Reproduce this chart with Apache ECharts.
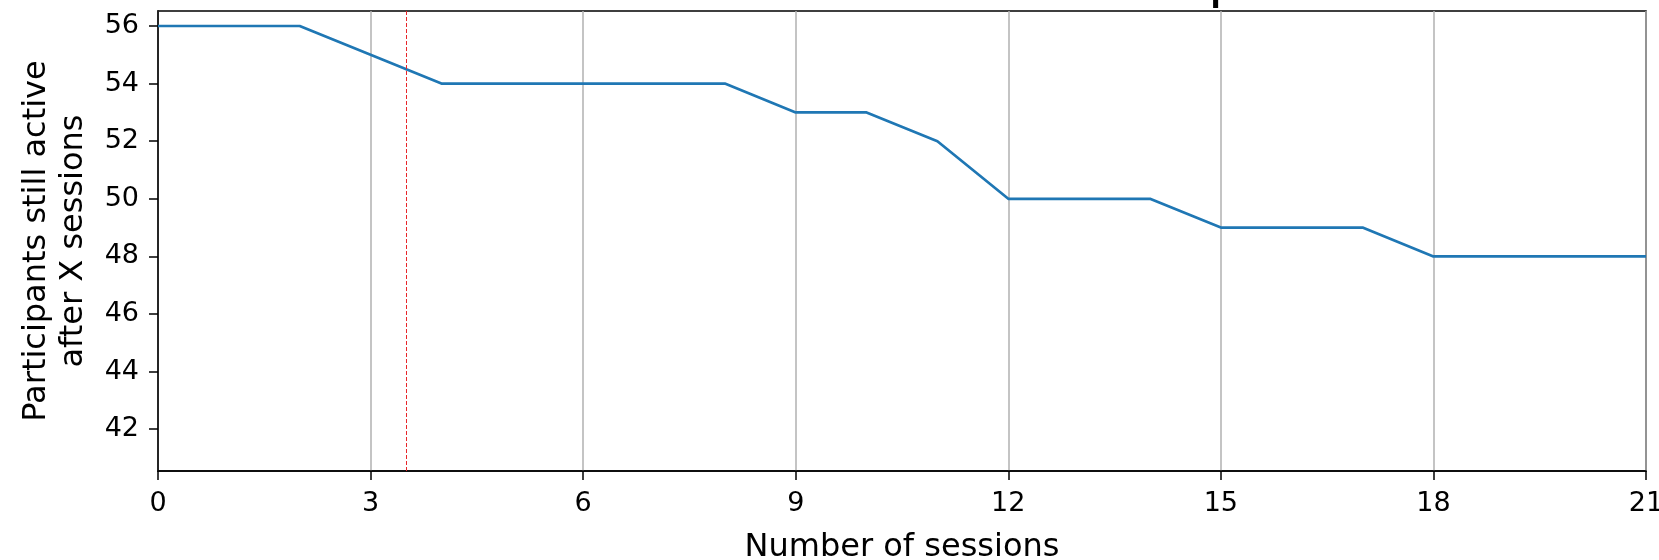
<!DOCTYPE html>
<html>
<head>
<meta charset="utf-8">
<script src="https://cdn.jsdelivr.net/npm/echarts@6/dist/echarts.min.js"></script>
<style>
html,body{margin:0;padding:0;background:#fff;}
#chart{width:1659px;height:560px;}
</style>
</head>
<body>
<div id="chart"></div>
<script>
// Data
const sessions = [0, 1, 2, 3, 4, 5, 6, 7, 8, 9, 10, 11, 12, 13, 14, 15, 16, 17, 18, 19, 20, 21];
const activeParticipants = [56, 56, 56, 55, 54, 54, 54, 54, 54, 53, 53, 52, 50, 50, 50, 49, 49, 49, 48, 48, 48, 48];
const yTickValues = [42, 44, 46, 48, 50, 52, 54, 56];
const xTickInterval = 3;
const cutoffSession = [3.5];
const xAxisTitle = 'Number of sessions';
const yAxisTitle = 'Participants still active\nafter X sessions';
const clippedTitle = 'p';

const FONT = 'DejaVu Sans';
const chart = echarts.init(document.getElementById('chart'), null, {renderer: 'canvas'});

const lineData = sessions.map((s, i) => [s, activeParticipants[i]]);

chart.setOption({
  animation: false,
  backgroundColor: '#ffffff',
  grid: {
    left: 158, right: 13, top: 11, bottom: 89,
    containLabel: false, outerBoundsMode: 'none',
    show: true, borderColor: '#000', borderWidth: 1.5, backgroundColor: 'transparent'
  },
  graphic: [{
    type: 'text', left: 1208, top: -47, z: 100,
    style: {text: clippedTitle, font: '56px "DejaVu Sans"', fill: '#000'}
  }],
  xAxis: {
    type: 'value', min: 0, max: 21, interval: xTickInterval,
    name: xAxisTitle, nameLocation: 'middle', nameGap: 61,
    nameTextStyle: {fontFamily: FONT, fontSize: 32, color: '#000'},
    axisLine: {show: true, lineStyle: {color: '#000', width: 1.5}},
    axisTick: {show: true, length: 9, lineStyle: {color: '#000', width: 1.5}},
    axisLabel: {fontFamily: FONT, fontSize: 27, color: '#000', margin: 19},
    splitLine: {show: true, lineStyle: {color: '#b0b0b0', width: 1.5}}
  },
  yAxis: {
    type: 'value', min: 40.55, max: 56.52,
    name: yAxisTitle, nameLocation: 'middle', nameRotate: 90, nameGap: 66,
    nameTextStyle: {fontFamily: FONT, fontSize: 32, color: '#000', lineHeight: 37, align: 'center'},
    axisLine: {show: true, lineStyle: {color: '#000', width: 1.5}},
    axisTick: {show: true, length: 9, lineStyle: {color: '#000', width: 1.5}, customValues: yTickValues},
    axisLabel: {fontFamily: FONT, fontSize: 27, color: '#000', margin: 19, customValues: yTickValues},
    splitLine: {show: false}
  },
  series: [{
    type: 'line',
    data: lineData,
    symbol: 'none',
    lineStyle: {color: '#1f77b4', width: 2.7},
    markLine: {
      silent: true, symbol: ['none', 'none'], label: {show: false},
      lineStyle: {color: '#e8262a', width: 1, type: [4, 2]},
      data: cutoffSession.map(v => ({xAxis: v}))
    }
  }]
});
</script>
</body>
</html>
